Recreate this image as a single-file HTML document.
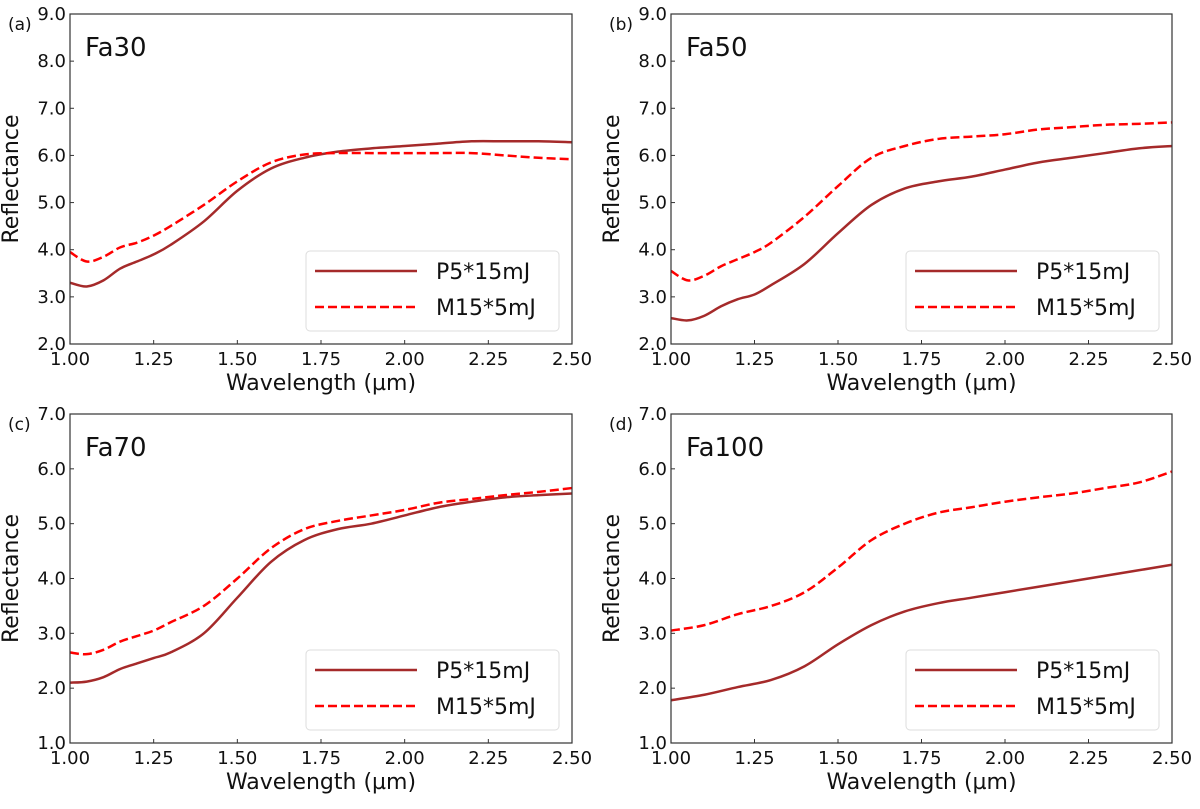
<!DOCTYPE html>
<html><head><meta charset="utf-8"><style>
body{margin:0;background:#fff;}
svg text{font-family:"DejaVu Sans","Liberation Sans",sans-serif;fill:#111;}
</style></head><body>
<svg id="chart" width="1200" height="804" viewBox="0 0 1200 804" xmlns="http://www.w3.org/2000/svg"></svg>
<script>
const xTicks=[1.00,1.25,1.50,1.75,2.00,2.25,2.50];
const wlA=[1.0,1.05,1.1,1.15,1.2,1.25,1.3,1.4,1.5,1.6,1.7,1.8,1.9,2.0,2.1,2.2,2.3,2.4,2.5];
const wlD=[1.0,1.1,1.2,1.3,1.4,1.5,1.6,1.7,1.8,1.9,2.0,2.1,2.2,2.3,2.4,2.5];
const aSolid=[3.3,3.22,3.35,3.6,3.75,3.9,4.1,4.6,5.25,5.72,5.95,6.08,6.15,6.2,6.25,6.3,6.3,6.3,6.28];
const aDash=[3.95,3.75,3.85,4.05,4.15,4.3,4.5,4.95,5.45,5.85,6.02,6.05,6.05,6.05,6.05,6.05,6.0,5.95,5.92];
const bSolid=[2.55,2.5,2.6,2.8,2.95,3.05,3.25,3.7,4.35,4.95,5.3,5.45,5.55,5.7,5.85,5.95,6.05,6.15,6.2];
const bDash=[3.55,3.35,3.45,3.65,3.8,3.95,4.15,4.7,5.35,5.95,6.2,6.35,6.4,6.45,6.55,6.6,6.65,6.67,6.7];
const cSolid=[2.1,2.12,2.2,2.35,2.45,2.55,2.65,3.0,3.65,4.3,4.7,4.9,5.0,5.15,5.3,5.4,5.48,5.52,5.55];
const cDash=[2.65,2.62,2.7,2.85,2.95,3.05,3.2,3.5,4.0,4.55,4.9,5.05,5.15,5.25,5.38,5.45,5.52,5.58,5.65];
const dSolid=[1.78,1.88,2.02,2.15,2.4,2.8,3.15,3.4,3.55,3.65,3.75,3.85,3.95,4.05,4.15,4.25];
const dDash=[3.05,3.15,3.35,3.5,3.75,4.2,4.7,5.0,5.2,5.3,5.4,5.48,5.55,5.65,5.75,5.95];
const yTicksAB=[2,3,4,5,6,7,8,9];
const yTicksCD=[1,2,3,4,5,6,7];
const legendLabels=["P5*15mJ","M15*5mJ"];

const NS="http://www.w3.org/2000/svg";
const svg=document.getElementById('chart');
function mk(tag,attrs,parent,name,text){
  const e=document.createElementNS(NS,tag);
  for(const k in attrs)e.setAttribute(k,attrs[k]);
  
  
  if(text!==undefined)e.textContent=text;
  (parent||svg).appendChild(e);return e;
}
function smooth(pts){
  let d=`M${pts[0][0]},${pts[0][1]}`;
  for(let i=0;i<pts.length-1;i++){
    const p0=pts[Math.max(0,i-1)],p1=pts[i],p2=pts[i+1],p3=pts[Math.min(pts.length-1,i+2)];
    const c1=[p1[0]+(p2[0]-p0[0])/6,p1[1]+(p2[1]-p0[1])/6];
    const c2=[p2[0]-(p3[0]-p1[0])/6,p2[1]-(p3[1]-p1[1])/6];
    d+=` C${c1[0]},${c1[1]} ${c2[0]},${c2[1]} ${p2[0]},${p2[1]}`;
  }
  return d;
}
function panel(id,label,title,L,T,W,H,ymin,ymax,yTicks,wl,solid,dash){
  const g=mk('g',{},svg,'panel-'+id);
  const xs=v=>L+(v-1)/(1.5)*W;
  const ys=v=>T+H-(v-ymin)/(ymax-ymin)*H;
  mk('text',{x:L-62,y:T+16,'font-size':17},g,'panel-label-'+id,label);
  mk('text',{x:L+15,y:T+42,'font-size':26},g,'panel-title-'+id,title);
  yTicks.forEach(v=>{
    mk('line',{x1:L,x2:L+4,y1:ys(v),y2:ys(v),stroke:'#333','stroke-width':1},g,'y-tick');
    mk('text',{x:L-4,y:ys(v)+6,'font-size':18,'text-anchor':'end'},g,'y-tick-label',v.toFixed(1));
  });
  xTicks.forEach(v=>{
    mk('line',{x1:xs(v),x2:xs(v),y1:T+H,y2:T+H-4,stroke:'#333','stroke-width':1},g,'x-tick');
    mk('text',{x:xs(v),y:T+H+21,'font-size':18,'text-anchor':'middle'},g,'x-tick-label',v.toFixed(2));
  });
  mk('text',{x:L+W/2,y:T+H+46,'font-size':22,'text-anchor':'middle'},g,'x-axis-title','Wavelength (µm)');
  mk('text',{x:0,y:0,'font-size':22,'text-anchor':'middle',transform:`translate(${L-52},${T+H/2}) rotate(-90)`},g,'y-axis-title','Reflectance');
  const clip=mk('clipPath',{id:'clip'+id},g,'clip');
  mk('rect',{x:L,y:T,width:W,height:H},clip,'clip-rect');
  mk('path',{d:smooth(wl.map((w,i)=>[xs(w),ys(solid[i])])),fill:'none',stroke:'#a52a2a','stroke-width':2.5,'clip-path':`url(#clip${id})`},g,'series-p5-15mj');
  mk('path',{d:smooth(wl.map((w,i)=>[xs(w),ys(dash[i])])),fill:'none',stroke:'#ff0000','stroke-width':2.5,'stroke-dasharray':'9,4','clip-path':`url(#clip${id})`},g,'series-m15-5mj');
  mk('rect',{x:L,y:T,width:W,height:H,fill:'none',stroke:'#333','stroke-width':1.2},g,'plot-frame');
  const lx=L+W-266,ly=T+H-93;
  const lg=mk('g',{},g,'legend');
  mk('rect',{x:lx,y:ly,width:253,height:80,rx:4,fill:'#fff',stroke:'#ddd'},lg,'legend-box');
  mk('line',{x1:lx+9,x2:lx+111,y1:ly+20,y2:ly+20,stroke:'#a52a2a','stroke-width':2.5},lg,'legend-swatch-solid');
  mk('text',{x:lx+130,y:ly+28,'font-size':22},lg,'legend-entry',legendLabels[0]);
  mk('line',{x1:lx+9,x2:lx+111,y1:ly+56,y2:ly+56,stroke:'#ff0000','stroke-width':2.5,'stroke-dasharray':'9,4'},lg,'legend-swatch-dashed');
  mk('text',{x:lx+130,y:ly+64,'font-size':22},lg,'legend-entry',legendLabels[1]);
}
panel('a','(a)','Fa30',70,14,502,330,2,9,yTicksAB,wlA,aSolid,aDash);
panel('b','(b)','Fa50',671,14,501,330,2,9,yTicksAB,wlA,bSolid,bDash);
panel('c','(c)','Fa70',70,414,502,329,1,7,yTicksCD,wlA,cSolid,cDash);
panel('d','(d)','Fa100',671,414,501,329,1,7,yTicksCD,wlD,dSolid,dDash);
</script>
</body></html>
